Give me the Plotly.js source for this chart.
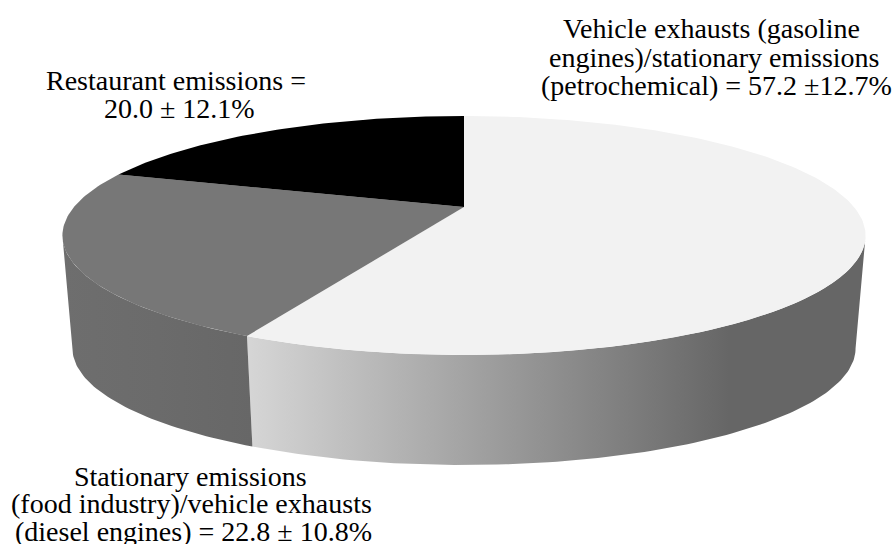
<!DOCTYPE html>
<html>
<head>
<meta charset="utf-8">
<script src="https://cdn.plot.ly/plotly-3.0.1.min.js"></script>
<style>html,body{margin:0;padding:0;background:#fff}#chart{width:892px;height:544px}</style>
</head>
<body>
<div id="chart"></div>
<script>
// Data
const sources = ["Vehicle exhausts", "Stationary emissions", "Restaurant emissions"];
const shares = [57.2, 22.8, 20.0];
const topColors = ["#f2f2f2", "#777777", "#000000"];
const labelLines = [
  "Vehicle exhausts (gasoline",
  "engines)/stationary emissions",
  "(petrochemical) = 57.2 ±12.7%",
  "Stationary emissions",
  "(food industry)/vehicle exhausts",
  "(diesel engines) = 22.8 ± 10.8%",
  "Restaurant emissions =",
  "20.0 ± 12.1%"
];
const labelX = [711, 714, 716, 190, 191, 193, 176, 179];
const labelY = [28, 57, 85, 476, 503, 531, 80, 108];

// Projection of the tilted disc onto the page
const cx = 464, cy = 207, k = 390, a = 112.7, c = -0.2385;
const drop = 113.7, bottomScale = 0.975;
function topRim(deg) {
  const t = deg * Math.PI / 180, X = Math.sin(t), v = -Math.cos(t), d = 1 + c * v;
  return [cx + k * X / d, cy + a * v / d];
}
function bottomRim(deg) {
  const p = topRim(deg);
  return [cx + bottomScale * (p[0] - cx), cy + drop + bottomScale * (p[1] - cy)];
}
function arc(fn, from, to) {
  const n = Math.max(2, Math.ceil(Math.abs(to - from))), out = [];
  for (let i = 0; i <= n; i++) out.push(fn(from + (to - from) * i / n));
  return out;
}
const total = shares.reduce((s, v) => s + v, 0);
const edges = [0];
shares.forEach(v => edges.push(edges[edges.length - 1] + v / total * 360));
const rightLimit = Math.acos(c) * 180 / Math.PI;
const leftLimit = 360 - rightLimit;

const traces = [];
function poly(points, extra) {
  traces.push(Object.assign({
    type: "scatter", mode: "lines", hoverinfo: "skip", showlegend: false,
    x: points.map(p => p[0]), y: points.map(p => p[1]),
    fill: "toself", line: {width: 0}
  }, extra));
}
// Side walls (only the parts facing the viewer)
poly(arc(topRim, rightLimit, edges[1]).concat(arc(bottomRim, edges[1], rightLimit)), {
  name: sources[0] + " side",
  fillgradient: {type: "horizontal", colorscale: [[0, "#d6d6d6"], [0.78, "#666666"], [1, "#666666"]]}
});
poly(arc(topRim, edges[1], leftLimit).concat(arc(bottomRim, leftLimit, edges[1])), {
  name: sources[1] + " side",
  fillgradient: {type: "horizontal", colorscale: [[0, "#6e6e6e"], [0.5, "#6b6b6b"], [1, "#676767"]]}
});
// Top faces
shares.forEach((v, i) => {
  const pts = [[cx, cy]].concat(arc(topRim, edges[i], edges[i + 1]));
  pts.push([cx, cy]);
  poly(pts, {name: sources[i], fillcolor: topColors[i], line: {width: 0, color: topColors[i]}});
});

const layout = {
  width: 892, height: 544,
  margin: {l: 0, r: 0, t: 0, b: 0},
  paper_bgcolor: "#ffffff", plot_bgcolor: "#ffffff",
  showlegend: false,
  xaxis: {range: [0, 892], visible: false, fixedrange: true},
  yaxis: {range: [544, 0], visible: false, fixedrange: true},
  annotations: labelLines.map((t, i) => ({
    text: t, x: labelX[i], y: labelY[i], xref: "x", yref: "y",
    showarrow: false, align: "center", xanchor: "center", yanchor: "middle",
    borderpad: 0,
    font: {family: "Liberation Serif, Times New Roman, serif", size: 28, color: "#000000"}
  }))
};
Plotly.newPlot("chart", traces, layout, {displayModeBar: false, staticPlot: true});
</script>
</body>
</html>
